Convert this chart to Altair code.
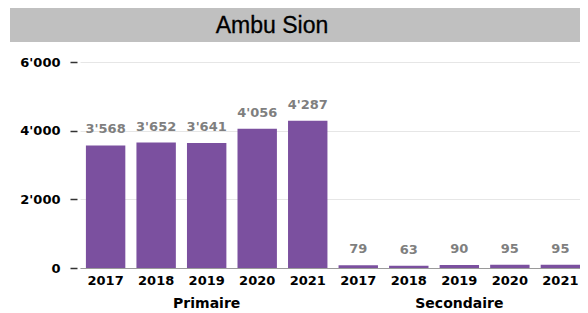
import altair as alt
import pandas as pd

# ---- data ----
TITLE = ["Ambu Sion"]
GROUPS = ["Primaire", "Secondaire"]
YEARS = ["2017", "2018", "2019", "2020", "2021"]
PRIMAIRE = [3568, 3652, 3641, 4056, 4287]
SECONDAIRE = [79, 63, 90, 95, 95]
Y_TICKS = [0, 2000, 4000, 6000]

rows = []
for g, vals in zip(GROUPS, [PRIMAIRE, SECONDAIRE]):
    for y, v in zip(YEARS, vals):
        rows.append({"group": g, "year": y, "key": g + "|" + y, "value": v})
df = pd.DataFrame(rows)
order = list(df["key"])

PURPLE = "#7b509f"
FONT = "DejaVu Sans"

W, H = 500, 206

x = alt.X(
    "key:N",
    sort=order,
    scale=alt.Scale(paddingInner=0.22, paddingOuter=0.117, range=[0, 506]),
    axis=alt.Axis(
        title=None,
        labelExpr="split(datum.label, '|')[1]",
        labelAngle=0,
        labelFont=FONT,
        labelFontSize=13,
        labelFontWeight="bold",
        labelColor="#000000",
        labelPadding=6,
        ticks=False,
        tickSize=0,
        domainColor="#9a9a9a",
        domainWidth=1,
        grid=False,
    ),
)

y = alt.Y(
    "value:Q",
    scale=alt.Scale(domain=[0, 6000], nice=False),
    axis=alt.Axis(
        title=None,
        values=Y_TICKS,
        labelExpr="replace(format(datum.value, ','), ',', \"'\")",
        labelFont=FONT,
        labelFontSize=13,
        labelFontWeight="bold",
        labelColor="#000000",
        labelPadding=10,
        tickSize=7,
        tickWidth=1.5,
        tickColor="#333333",
        offset=3,
        domain=False,
        grid=True,
        gridColor="#e6e6e6",
        gridWidth=1,
    ),
)

base = alt.Chart(df)

bars = base.mark_bar(color=PURPLE).encode(x=x, y=y)

labels = base.transform_calculate(
    lab="replace(format(datum.value, ','), ',', \"'\")"
).mark_text(
    font=FONT, fontSize=13, fontWeight="bold", color="#7f7f7f",
    baseline="alphabetic", dy=-12,
).encode(x=x, y=y, text="lab:N")

group_labels = base.transform_filter(
    alt.datum.year == YEARS[2]
).mark_text(
    font=FONT, fontSize=14, fontWeight="bold", color="#000000",
    baseline="alphabetic",
).encode(x=x, y=alt.value(H + 40), text="group:N")

tdf = pd.DataFrame({"t": TITLE})
title_bg = alt.Chart(tdf).mark_rect(color="#c0c0c0").encode(
    x=alt.value(-70), x2=alt.value(W + 20), y=alt.value(-54), y2=alt.value(-20)
)
title_txt = alt.Chart(tdf).mark_text(
    font="Liberation Sans", fontSize=23, color="#000000", baseline="alphabetic",
    stroke="#000000", strokeWidth=0.3,
).encode(x=alt.value(192), y=alt.value(-29), text="t:N")

chart = alt.layer(title_bg, title_txt, bars, labels, group_labels).properties(
    width=W,
    height=H,
    background="white",
    autosize=alt.AutoSizeParams(type="none"),
    padding={"left": 72, "top": 54, "right": 0, "bottom": 42},
).configure_view(stroke=None)

chart.save("out.html", embed_options={"renderer": "svg", "actions": False})
